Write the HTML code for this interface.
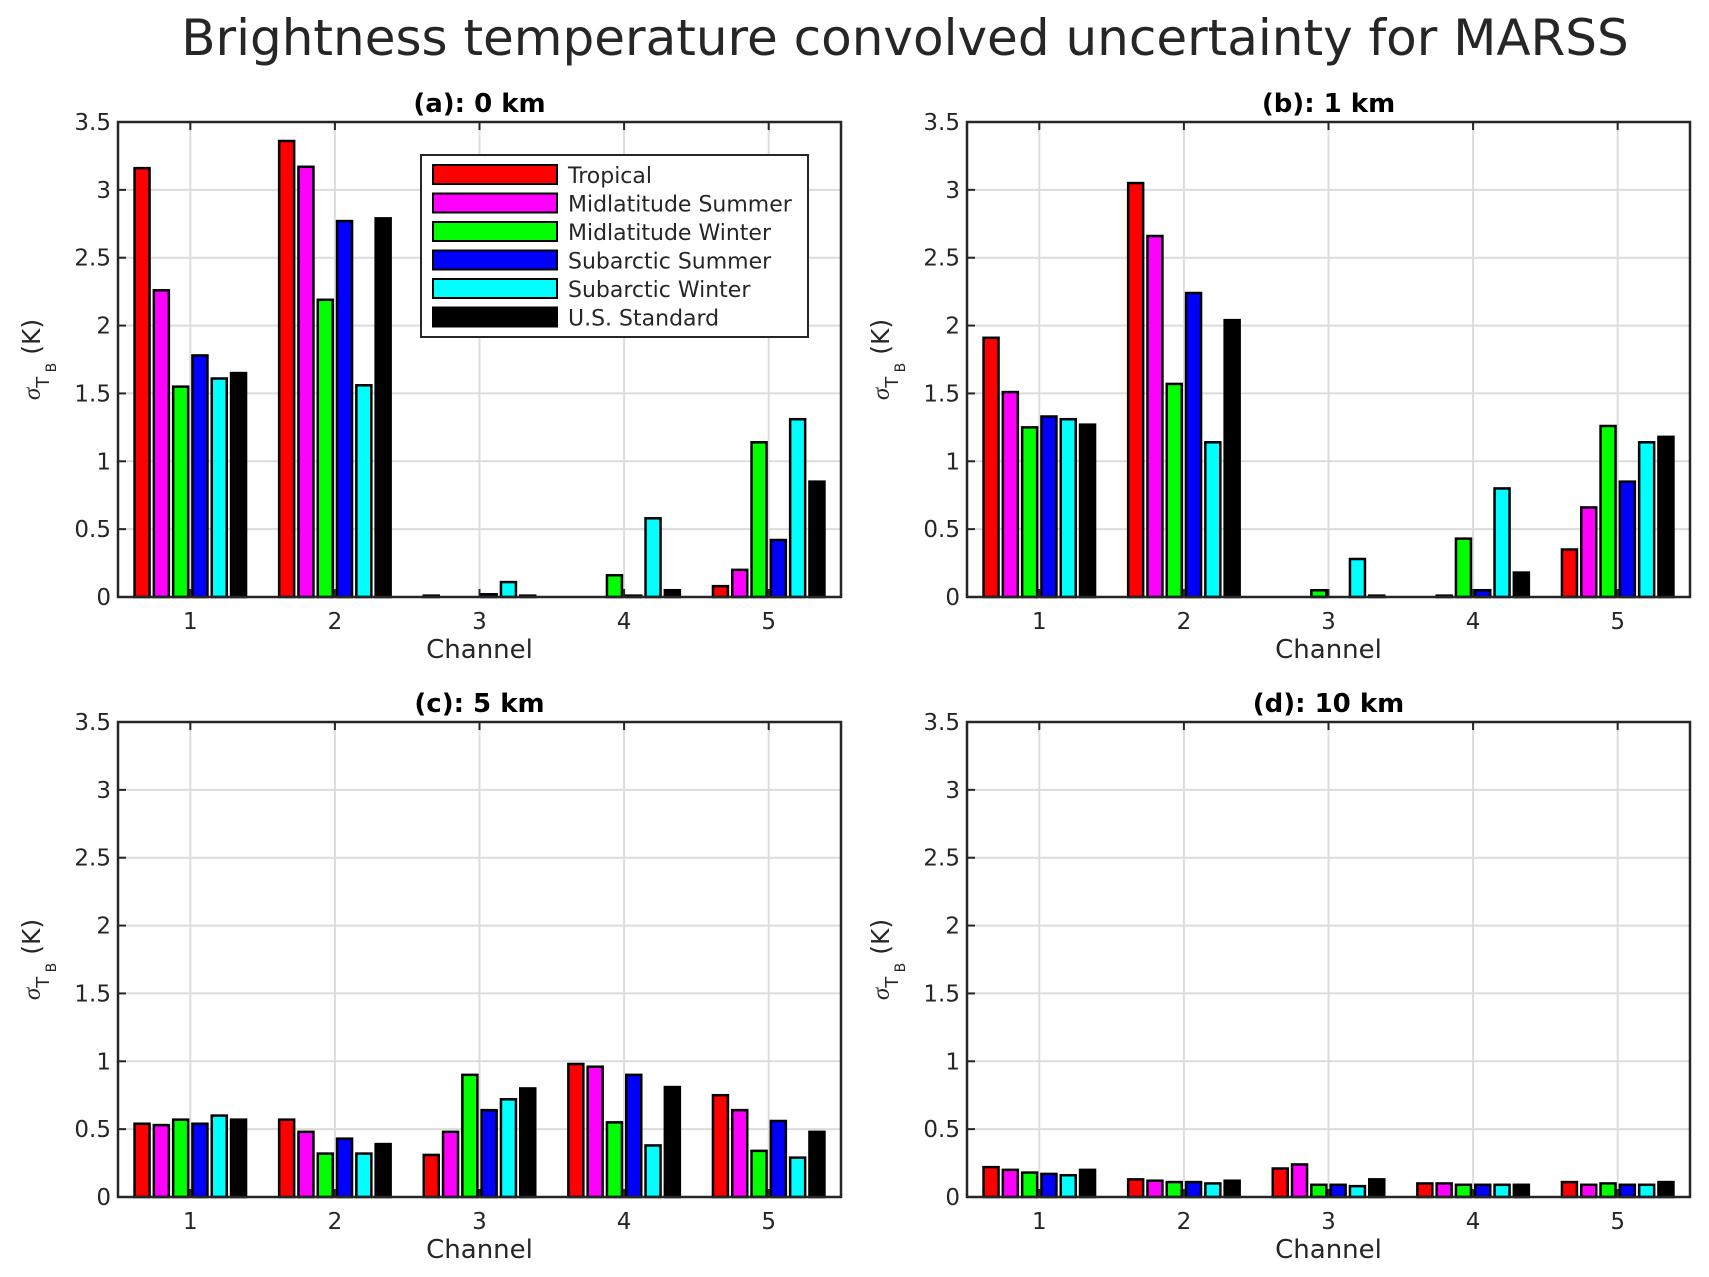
<!DOCTYPE html>
<html><head><meta charset="utf-8"><style>
body{margin:0;background:#fff}
svg{display:block;font-family:"DejaVu Sans","Liberation Sans",sans-serif}
</style></head><body>
<svg id="chart" width="1709" height="1277" viewBox="0 0 1709 1277">
<text x="905" y="55" font-size="50" text-anchor="middle" fill="#262626">Brightness temperature convolved uncertainty for MARSS</text>
</svg>
<script>
const channels=[1,2,3,4,5];
const seriesNames=["Tropical","Midlatitude Summer","Midlatitude Winter","Subarctic Summer","Subarctic Winter","U.S. Standard"];
const colors=["#ff0000","#ff00ff","#00ff00","#0000ff","#00ffff","#000000"];
const yTicks=[0,0.5,1,1.5,2,2.5,3,3.5];
const yTickLabels=["0","0.5","1","1.5","2","2.5","3","3.5"];
const panelTitles=["(a): 0 km","(b): 1 km","(c): 5 km","(d): 10 km"];
// values[channel][series]
const valuesA=[[3.16,2.26,1.55,1.78,1.61,1.65],[3.36,3.17,2.19,2.77,1.56,2.79],[0.01,0,0,0.02,0.11,0.01],[0,0,0.16,0.01,0.58,0.05],[0.08,0.2,1.14,0.42,1.31,0.85]];
const valuesB=[[1.91,1.51,1.25,1.33,1.31,1.27],[3.05,2.66,1.57,2.24,1.14,2.04],[0,0,0.05,0,0.28,0.01],[0,0.01,0.43,0.05,0.80,0.18],[0.35,0.66,1.26,0.85,1.14,1.18]];
const valuesC=[[0.54,0.53,0.57,0.54,0.60,0.57],[0.57,0.48,0.32,0.43,0.32,0.39],[0.31,0.48,0.90,0.64,0.72,0.80],[0.98,0.96,0.55,0.90,0.38,0.81],[0.75,0.64,0.34,0.56,0.29,0.48]];
const valuesD=[[0.22,0.20,0.18,0.17,0.16,0.20],[0.13,0.12,0.11,0.11,0.10,0.12],[0.21,0.24,0.09,0.09,0.08,0.13],[0.10,0.10,0.09,0.09,0.09,0.09],[0.11,0.09,0.10,0.09,0.09,0.11]];

const NS="http://www.w3.org/2000/svg";
const svg=document.getElementById('chart');
function mk(tag,attrs,parent,text){const e=document.createElementNS(NS,tag);for(const k in attrs)e.setAttribute(k,attrs[k]);if(text!==undefined)e.textContent=text;(parent||svg).appendChild(e);return e;}
const panels=[{x:118,y:122,v:valuesA,legend:true},{x:967,y:122,v:valuesB},{x:118,y:722,v:valuesC},{x:967,y:722,v:valuesD}];
const W=723,H=475;
panels.forEach((p,pi)=>{
  const g=mk('g',{});
  
  
  const xs=c=>p.x+(c-0.5)/5*W;
  const ys=v=>p.y+H-v/3.5*H;
  yTicks.forEach((t,i)=>{
    const l=mk('line',{x1:p.x,x2:p.x+W,y1:ys(t),y2:ys(t),stroke:'#dcdcdc','stroke-width':2},g);
    
    
    mk('line',{x1:p.x,x2:p.x+8,y1:ys(t),y2:ys(t),stroke:'#262626','stroke-width':2},g);
    const tx=mk('text',{x:p.x-7,y:ys(t)+8,'font-size':23,'text-anchor':'end',fill:'#262626'},g,yTickLabels[i]);
    
    
  });
  channels.forEach(c=>{
    const l=mk('line',{x1:xs(c),x2:xs(c),y1:p.y,y2:p.y+H,stroke:'#dcdcdc','stroke-width':2},g);
    
    
    mk('line',{x1:xs(c),x2:xs(c),y1:p.y,y2:p.y+8,stroke:'#262626','stroke-width':2},g);
    mk('line',{x1:xs(c),x2:xs(c),y1:p.y+H,y2:p.y+H-8,stroke:'#262626','stroke-width':2},g);
    const tx=mk('text',{x:xs(c),y:p.y+H+32,'font-size':23,'text-anchor':'middle',fill:'#262626'},g,String(c));
    
    
  });
  const pitch=19.3,bw=15;
  p.v.forEach((row,ci)=>{
    row.forEach((val,si)=>{
      const cx=xs(channels[ci])+(si-2.5)*pitch;
      const y0=ys(val),y1=ys(0);
      const r=mk('rect',{x:cx-bw/2,y:y0,width:bw,height:Math.max(0,y1-y0),fill:colors[si],stroke:'#000','stroke-width':2.5},g);
      
      
    });
  });
  const box=mk('rect',{x:p.x,y:p.y,width:W,height:H,fill:'none',stroke:'#262626','stroke-width':2.5},g);
  
  
  const t=mk('text',{x:p.x+W/2,y:p.y-10,'font-size':26,'font-weight':'bold','text-anchor':'middle',fill:'#000'},g,panelTitles[pi]);
  
  
  const xl=mk('text',{x:p.x+W/2,y:p.y+H+61,'font-size':26,'text-anchor':'middle',fill:'#262626'},g,'Channel');
  
  
  const yl=mk('text',{transform:`translate(${p.x-78},${p.y+H/2}) rotate(-90)`,'font-size':25,'text-anchor':'middle',fill:'#262626'},g);
  
  
  mk('tspan',{'font-style':'italic','font-family':'Liberation Serif, serif'},yl,'σ');
  mk('tspan',{dy:9,'font-size':18},yl,'T');
  mk('tspan',{dy:7,'font-size':14},yl,' B');
  mk('tspan',{dy:-16},yl,'  (K)');
  if(p.legend){
    const lg=mk('g',{},g);
    
    
    mk('rect',{x:421,y:155,width:387,height:182,fill:'#fff',stroke:'#262626','stroke-width':2},lg);
    seriesNames.forEach((n,i)=>{
      const yy=165+i*28.5;
      const e=mk('g',{},lg);
      
      
      mk('rect',{x:433,y:yy,width:124,height:19,fill:colors[i],stroke:'#000','stroke-width':2},e);
      mk('text',{x:568,y:yy+18,'font-size':22,fill:'#262626'},e,n);
    });
  }
});
</script>
</body></html>
